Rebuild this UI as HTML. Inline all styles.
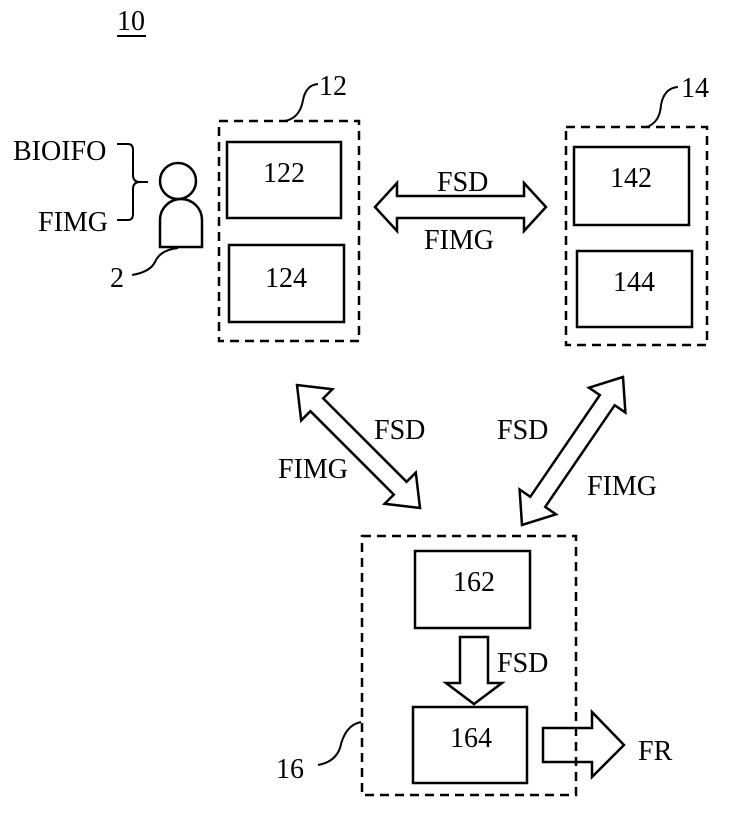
<!DOCTYPE html>
<html><head><meta charset="utf-8"><style>
html,body{margin:0;padding:0;background:#fff;}
svg{display:block;}
text{font-family:"Liberation Serif",serif;font-size:28px;fill:#000;}
</style></head><body>
<svg id="s" width="739" height="820" viewBox="0 0 739 820" xmlns="http://www.w3.org/2000/svg">
<g fill="none" stroke="#000" stroke-width="2.5">
<rect x="219" y="121" width="140" height="220" stroke-dasharray="9,6"/>
<rect x="566" y="127" width="141" height="218" stroke-dasharray="9,6"/>
<rect x="227" y="142" width="114" height="76"/>
<rect x="229" y="245" width="115" height="77"/>
<rect x="574" y="147" width="115" height="78"/>
<rect x="577" y="251" width="115" height="76"/>
<rect x="415" y="551" width="115" height="77"/>
<rect x="413" y="707" width="114" height="76"/>
<circle cx="178" cy="181" r="18"/>
<path d="M160,247 L160,220 A21,21 0 0 1 202,220 L202,247 Z"/>
<path d="M117,144 L128,144 Q133,144 133,150 L133,175 Q133,182 140,182 L148,182 M140,182 Q133,182 133,189 L133,214 Q133,220 128,220 L117,220" stroke-width="2"/>
<path d="M132,275 Q150,272 155,262 Q160,250 178,248" stroke-width="2"/>
<path d="M285,121 Q300,118 303,100 Q306,85 318,84" stroke-width="2"/>
<path d="M647,127 Q660,122 661,105 Q664,88 678,87" stroke-width="2"/>
<path d="M318,765 Q335,762 340,748 Q345,725 361,722" stroke-width="2"/>
<line x1="117" y1="36" x2="146" y2="36" stroke-width="2"/>
</g>
<g id="arrows" fill="#fff" stroke="#000" stroke-width="2.5" stroke-linejoin="miter"></g>
<polygon fill="#fff" stroke="#000" stroke-width="2.5" points="460,637 488,637 488,683 502,683 474,704 446,683 460,683"/>
<polygon fill="#fff" stroke="#000" stroke-width="2.5" points="543,728 592,728 592,712 624,745 592,777 592,762 543,762"/>
<rect x="362" y="536" width="214" height="259" fill="none" stroke="#000" stroke-width="2.5" stroke-dasharray="9,6"/>
<text x="117" y="30">10</text>
<text x="319" y="95">12</text>
<text x="681" y="97">14</text>
<text x="276" y="778">16</text>
<text x="110" y="287">2</text>
<text x="13" y="160">BIOIFO</text>
<text x="38" y="231">FIMG</text>
<text x="263" y="182">122</text>
<text x="265" y="287">124</text>
<text x="610" y="187">142</text>
<text x="613" y="291">144</text>
<text x="453" y="591">162</text>
<text x="450" y="747">164</text>
<text x="437" y="191">FSD</text>
<text x="424" y="249">FIMG</text>
<text x="374" y="439">FSD</text>
<text x="278" y="478">FIMG</text>
<text x="497" y="439">FSD</text>
<text x="587" y="495">FIMG</text>
<text x="497" y="672">FSD</text>
<text x="638" y="760">FR</text>
</svg>
<script>
function dbl(x1,y1,x2,y2,sw,hw,hl){
 var dx=x2-x1,dy=y2-y1,L=Math.hypot(dx,dy),ux=dx/L,uy=dy/L,px=-uy,py=ux;
 function p(t,o){return (x1+ux*t+px*o).toFixed(1)+","+(y1+uy*t+py*o).toFixed(1);}
 var pts=[p(0,0),p(hl,hw),p(hl,sw),p(L-hl,sw),p(L-hl,hw),p(L,0),p(L-hl,-hw),p(L-hl,-sw),p(hl,-sw),p(hl,-hw)];
 var e=document.createElementNS("http://www.w3.org/2000/svg","polygon");
 e.setAttribute("points",pts.join(" "));
 document.getElementById("arrows").appendChild(e);
}
dbl(375,207,546,207,11,24,22);
dbl(297,385,420,508,9,22,28);
dbl(623,377,522,525,9,22,28);
</script>
</body></html>
